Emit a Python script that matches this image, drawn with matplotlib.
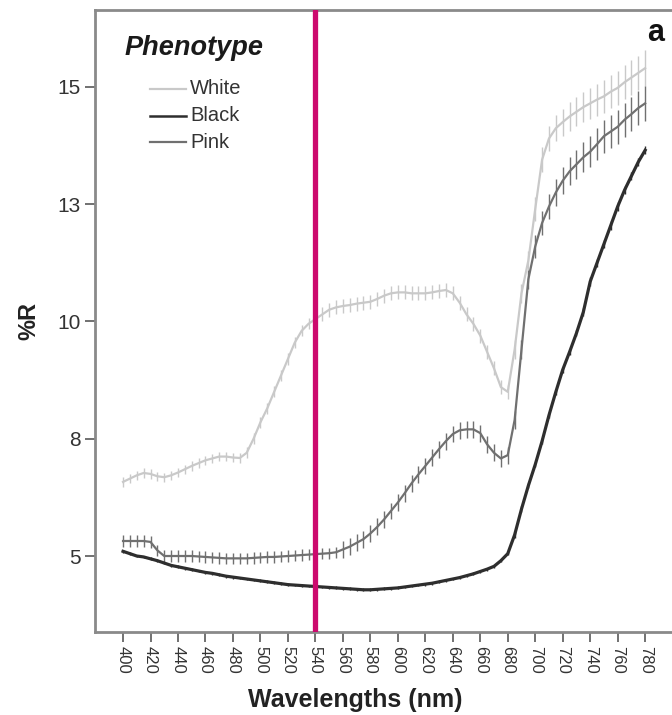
import numpy as np
import matplotlib
matplotlib.use("Agg")
import matplotlib.pyplot as plt
from matplotlib.lines import Line2D

plt.rcParams['font.family'] = ['Liberation Sans', 'DejaVu Sans']

# wavelengths, 5 nm steps
wl = list(range(400, 785, 5))

white = [6.58, 6.65, 6.72, 6.77, 6.75, 6.70, 6.68, 6.72, 6.78, 6.85,
         6.92, 6.98, 7.04, 7.08, 7.12, 7.12, 7.10, 7.09, 7.20, 7.50,
         7.85, 8.15, 8.50, 8.85, 9.20, 9.55, 9.80, 9.95, 10.05, 10.15,
         10.25, 10.30, 10.33, 10.35, 10.38, 10.40, 10.42, 10.48, 10.55, 10.60,
         10.62, 10.62, 10.60, 10.60, 10.60, 10.62, 10.65, 10.67, 10.60, 10.40,
         10.15, 9.95, 9.70, 9.35, 9.00, 8.60, 8.50, 9.40, 10.60, 11.30,
         12.40, 13.45, 13.90, 14.12, 14.25, 14.37, 14.47, 14.57, 14.65, 14.73,
         14.80, 14.90, 14.98, 15.10, 15.20, 15.30, 15.40]
white_err = [0.10] * 18 + [0.12] * 10 + [0.15] * 29 + [0.20] * 3 + \
            [0.25, 0.26, 0.27, 0.28, 0.29, 0.30, 0.31, 0.32, 0.33, 0.34,
             0.35, 0.35, 0.36, 0.36, 0.37, 0.37, 0.38]

pink = [5.32, 5.32, 5.32, 5.32, 5.30, 5.12, 5.00, 5.00, 5.00, 5.00,
        5.00, 4.99, 4.98, 4.97, 4.96, 4.95, 4.95, 4.95, 4.95, 4.96,
        4.97, 4.98, 4.98, 4.99, 5.00, 5.01, 5.02, 5.03, 5.04, 5.05,
        5.06, 5.08, 5.14, 5.20, 5.28, 5.36, 5.48, 5.62, 5.78, 5.96,
        6.14, 6.34, 6.55, 6.74, 6.92, 7.10, 7.28, 7.45, 7.60, 7.68,
        7.70, 7.70, 7.62, 7.38, 7.20, 7.08, 7.15, 7.90, 9.40, 10.90,
        11.60, 12.10, 12.45, 12.75, 13.00, 13.20, 13.35, 13.50, 13.62, 13.78,
        13.95, 14.05, 14.15, 14.30, 14.42, 14.55, 14.65]
pink_err = [0.12] * 32 + [0.18] * 25 + [0.20] * 3 + \
           [0.25, 0.26, 0.27, 0.28, 0.29, 0.30, 0.31, 0.32, 0.33, 0.34,
            0.35, 0.35, 0.36, 0.36, 0.37, 0.37, 0.38]

black = [5.10, 5.05, 5.00, 4.98, 4.94, 4.90, 4.85, 4.80, 4.77, 4.74,
         4.71, 4.68, 4.65, 4.63, 4.60, 4.57, 4.55, 4.53, 4.51, 4.49,
         4.47, 4.45, 4.43, 4.41, 4.39, 4.38, 4.37, 4.36, 4.35, 4.34,
         4.33, 4.32, 4.31, 4.30, 4.29, 4.28, 4.28, 4.29, 4.30, 4.31,
         4.32, 4.34, 4.36, 4.38, 4.40, 4.42, 4.45, 4.48, 4.51, 4.54,
         4.58, 4.62, 4.67, 4.72, 4.78, 4.90, 5.05, 5.45, 6.00, 6.50,
         6.95, 7.45, 8.00, 8.50, 8.97, 9.35, 9.75, 10.20, 10.85, 11.25,
         11.65, 12.05, 12.45, 12.80, 13.10, 13.40, 13.65]
black_err = [0.03] * 57 + [0.06] * 10 + [0.09] * 10

yticks = [5, 7.5, 10, 12.5, 15]
ytick_labels = ['5', '8', '10', '13', '15']
xticks = list(range(400, 800, 20))

phenotypes = ['White', 'Black', 'Pink']
c_white = '#c9c9c9'
c_pink = '#707070'
c_black = '#2e2e2e'
colors = {'White': c_white, 'Black': c_black, 'Pink': c_pink}

fig = plt.figure(figsize=(6.72, 7.15), dpi=100)
ax = fig.add_axes([95 / 672, 83 / 715, 580 / 672, 622 / 715])

ax.errorbar(wl, white, yerr=white_err, color=c_white, lw=1.6, elinewidth=1.0, capsize=0)
ax.errorbar(wl, pink, yerr=pink_err, color=c_pink, lw=1.6, elinewidth=1.0, capsize=0)
ax.errorbar(wl, black, yerr=black_err, color=c_black, lw=2.3, elinewidth=1.0, capsize=0)

ax.axvline(540, color='#cc0a6e', lw=3.8, zorder=5)

ax.set_xlim(379.6, 379.6 + 580 / 1.374)
ax.set_ylim(3.38, 16.64)
ax.set_xticks(xticks)
ax.set_xticklabels([str(x) for x in xticks], rotation=-90, fontsize=12, color='#333333')
ax.set_yticks(yticks)
ax.set_yticklabels(ytick_labels, fontsize=15, color='#333333')
ax.tick_params(axis='both', direction='out', length=7, width=1.3, color='#666666')
ax.tick_params(axis='x', pad=3)

for s in ['top', 'left', 'bottom', 'right']:
    ax.spines[s].set_color('#8a8a8a')
    ax.spines[s].set_linewidth(2)

ax.set_xlabel('Wavelengths (nm)', fontsize=18, fontweight='bold', color='#222222')
ax.xaxis.set_label_coords(0.448, -0.09)
ax.set_ylabel('%R', fontsize=17, fontweight='bold', color='#222222')
ax.yaxis.set_label_coords(-0.095, 0.5)

# legend drawn by hand so the entries sit indented under the title
fig.text(125 / 672, 1 - 48 / 715, 'Phenotype', fontsize=19.5, fontweight='bold',
         fontstyle='italic', ha='left', va='center', color='#1a1a1a')
for i, name in enumerate(phenotypes):
    yy = 1 - (89 + 26.5 * i) / 715
    fig.add_artist(Line2D([150 / 672, 186 / 672], [yy, yy], color=colors[name],
                          lw=1.8 if name == 'Black' else 1.6))
    fig.text(190 / 672, yy, name, fontsize=14.5, ha='left', va='center', color='#333333')

fig.text(656 / 672, 1 - 33 / 715, 'a', fontsize=22, fontweight='bold',
         ha='center', va='center', color='#111111')

fig.savefig('out.png', dpi=100)
